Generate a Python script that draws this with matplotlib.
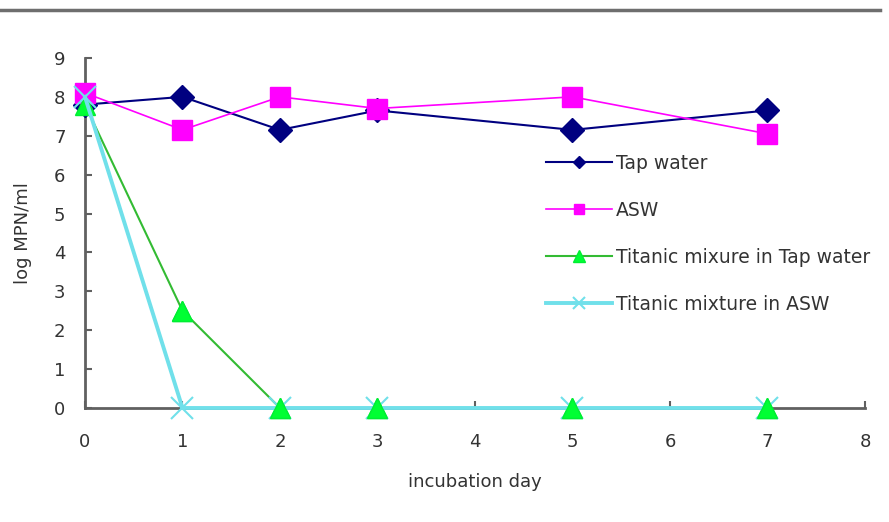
import matplotlib.pyplot as plt
from matplotlib.lines import Line2D

days = [0, 1, 2, 3, 5, 7]
tap_water = [7.8, 8.0, 7.15, 7.65, 7.15, 7.65]
asw = [8.1, 7.15, 8.0, 7.7, 8.0, 7.05]
titanic_tap = [7.8, 2.5, 0, 0, 0, 0]
titanic_asw = [8.0, 0, 0, 0, 0, 0]

fig = plt.figure(figsize=(8.89, 5.22), dpi=100)
ax = fig.add_axes([0.0956, 0.2184, 0.8774, 0.6706])

# top frame line of the original picture
fig.add_artist(Line2D([0, 0.99], [0.981, 0.981], color='#6e6e6e', lw=2.5))

ax.plot(days, tap_water, color='#000080', lw=1.5, marker='D', ms=12,
        label='Tap water', clip_on=False, zorder=3)
ax.plot(days, asw, color='#ff00ff', lw=1.2, marker='s', ms=14,
        label='ASW', clip_on=False, zorder=3)
ax.plot(days, titanic_tap, color='#33bb33', lw=1.5, marker='^', ms=15,
        markerfacecolor='#00ff33', markeredgecolor='#00ee33',
        label='Titanic mixure in Tap water', clip_on=False, zorder=4)
ax.plot(days, titanic_asw, color='#70e0ea', lw=2.8, marker='x', ms=16, mew=1.5,
        label='Titanic mixture in ASW', clip_on=False, zorder=5)
# triangles sit on top of the cyan baseline
ax.plot(days[1:], titanic_tap[1:], ls='none', marker='^', ms=15,
        markerfacecolor='#00ff33', markeredgecolor='#00ee33',
        clip_on=False, zorder=6)

ax.set_xlim(0, 8)
ax.set_ylim(0, 9)
ax.set_xticks(range(0, 9))
ax.set_yticks(range(0, 10))
for s in ['top', 'right']:
    ax.spines[s].set_visible(False)
for s in ['left', 'bottom']:
    ax.spines[s].set_color('#606060')
    ax.spines[s].set_linewidth(2)
ax.tick_params(direction='in', length=5, width=1.5, color='#606060',
               labelsize=13, labelcolor='#333333')
ax.tick_params(axis='x', pad=18)
ax.tick_params(axis='y', pad=14)
ax.set_xlabel('incubation day', fontsize=13, color='#333333', labelpad=16)
ax.set_ylabel('log MPN/ml', fontsize=13, color='#333333', labelpad=16)

ax.legend(loc='upper left', bbox_to_anchor=(0.57, 0.775), frameon=False,
          fontsize=13.5, markerscale=0.55, handlelength=3.5, handletextpad=0.2,
          labelspacing=1.5, labelcolor='#333333')

fig.savefig('out.png', dpi=100)
